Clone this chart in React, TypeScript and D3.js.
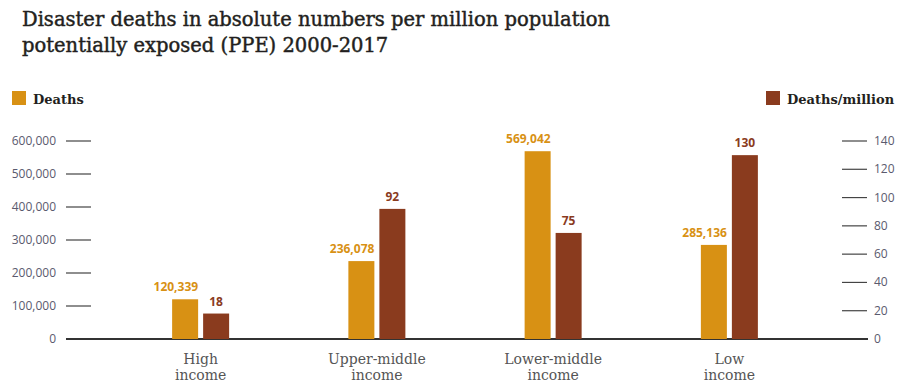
import React from "react";
import * as d3 from "d3";

const categories = ["High income", "Upper-middle income", "Lower-middle income", "Low income"];
const categoryLines = [["High", "income"], ["Upper-middle", "income"], ["Lower-middle", "income"], ["Low", "income"]];
const deaths = [120339, 236078, 569042, 285136];
const deathsPerMillion = [18, 92, 75, 130];
const leftTicks = [0, 100000, 200000, 300000, 400000, 500000, 600000];
const rightTicks = [0, 20, 40, 60, 80, 100, 120, 140];

const ORANGE = "#d89114";
const BROWN = "#8a3b1e";
const SERIF = "'DejaVu Serif', serif";
const SANS = "'Open Sans', 'Noto Sans', sans-serif";

export default function App() {
  const W = 921, H = 391;
  const y0 = 339, yTop = 141;
  const yL = d3.scaleLinear().domain([0, 600000]).range([y0, yTop]);
  const yR = d3.scaleLinear().domain([0, 140]).range([y0, yTop]);
  const x = d3.scaleBand<string>().domain(categories).range([112.5, 817.5]);
  const barW = 26, gap = 5;
  const fmt = d3.format(",");
  return (
    <svg width={W} height={H} style={{ position: "absolute", left: 0, top: 0, background: "#fff" }}>
      <g fontFamily={SERIF} fontSize={19.5} fill="#231f20" stroke="#231f20" strokeWidth={0.45}>
        <text x={22} y={26}>Disaster deaths in absolute numbers per million population</text>
        <text x={22} y={52}>potentially exposed (PPE) 2000-2017</text>
      </g>

      <rect x={12} y={91} width={14} height={14} fill={ORANGE} />
      <text x={33} y={104} fontFamily={SERIF} fontSize={13} fontWeight="bold" fill="#231f20">Deaths</text>
      <rect x={766} y={91} width={14} height={14} fill={BROWN} />
      <text x={787} y={104} fontFamily={SERIF} fontSize={13} fontWeight="bold" fill="#231f20">Deaths/million</text>

      {leftTicks.map((t) => (
        <g key={"l" + t}>
          {t > 0 && <line x1={66} x2={91} y1={yL(t)} y2={yL(t)} stroke="#444" strokeWidth={1.2} />}
          <text x={56} y={yL(t) + 4} textAnchor="end" fontFamily={SANS} fontSize={12} fill="#5a5a6e">{fmt(t)}</text>
        </g>
      ))}
      {rightTicks.map((t) => (
        <g key={"r" + t}>
          {t > 0 && <line x1={842} x2={867} y1={yR(t)} y2={yR(t)} stroke="#444" strokeWidth={1.2} />}
          <text x={874} y={yR(t) + 4} textAnchor="start" fontFamily={SANS} fontSize={12} fill="#5a5a6e">{t}</text>
        </g>
      ))}
      <line x1={66} x2={868} y1={y0} y2={y0} stroke="#333" strokeWidth={2} />

      {categories.map((c, i) => {
        const cx = (x(c) as number) + x.bandwidth() / 2;
        const ox = cx - gap / 2 - barW;
        const bx = cx + gap / 2;
        return (
          <g key={c}>
            <rect x={ox} y={yL(deaths[i])} width={barW} height={y0 - yL(deaths[i])} fill={ORANGE} />
            <rect x={bx} y={yR(deathsPerMillion[i])} width={barW} height={y0 - yR(deathsPerMillion[i])} fill={BROWN} />
            <text x={ox + barW} y={yL(deaths[i]) - 8} textAnchor="end" fontFamily={SANS} fontWeight="bold" fontSize={12} fill={ORANGE}>{fmt(deaths[i])}</text>
            <text x={bx + barW / 2} y={yR(deathsPerMillion[i]) - 8} textAnchor="middle" fontFamily={SANS} fontWeight="bold" fontSize={12} fill={BROWN}>{deathsPerMillion[i]}</text>
            {categoryLines[i].map((l, j) => (
              <text key={j} x={cx} y={364 + j * 16} textAnchor="middle" fontFamily={SERIF} fontSize={14} fill="#555">{l}</text>
            ))}
          </g>
        );
      })}
    </svg>
  );
}
